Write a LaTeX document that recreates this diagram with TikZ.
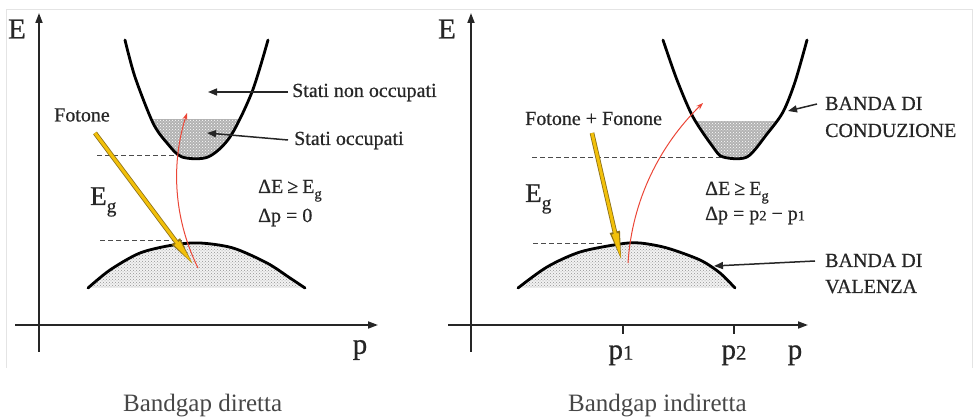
\documentclass[tikz,border=0pt]{standalone}
\usepackage{fontspec}
\setmainfont{Liberation Serif}[BoldFont={Liberation Serif},BoldFeatures={FakeBold=0.6}]
\usepackage{graphicx}
\usetikzlibrary{arrows.meta,patterns}
\definecolor{txt}{HTML}{262626}
\definecolor{gold}{RGB}{242,192,10}
\definecolor{goldedge}{RGB}{140,112,25}
\definecolor{redarr}{RGB}{235,70,55}
\definecolor{framecol}{HTML}{E4E4E4}
\newcommand\subg[1]{\raisebox{-0.6ex}{\scalebox{0.72}{#1}}}
\newcommand\subn[1]{\raisebox{-0.05ex}{\scalebox{0.72}{#1}}}
\begin{document}
\begin{tikzpicture}[x=1pt,y=-1pt,
  lbl/.style={inner sep=0pt, text=txt, font=\fontsize{20}{24}\selectfont\bfseries},
  biglbl/.style={inner sep=0pt, text=txt, font=\fontsize{29}{32}\selectfont\bfseries},
  eglbl/.style={inner sep=0pt, text=txt, font=\fontsize{27}{30}\selectfont\bfseries},
  caplbl/.style={inner sep=0pt, text=black!72, font=\fontsize{25}{30}\selectfont},
  axis/.style={line width=1.8pt, draw=black!85, -{Triangle[length=10pt,width=7pt]}},
  tick/.style={line width=1.8pt, draw=black!85},
  band/.style={line width=2.8pt, draw=black, line join=round, line cap=round},
  guide/.style={dash pattern=on 5pt off 3pt, line width=1pt, draw=black!70},
  ptr/.style={line width=1.5pt, draw=black!85, -{Triangle[length=9pt,width=7pt]}},
  exc/.style={line width=1pt, draw=redarr, -{Stealth[length=7pt,width=5pt]}},
  photout/.style={line width=4.6pt, draw=goldedge, -{Triangle[length=32pt,width=9pt]}},
  photin/.style={line width=3pt, draw=gold, shorten >=2pt, -{Triangle[length=28pt,width=6pt]}},
  cfill/.style={fill=gray!60, postaction={pattern=crosshatch dots, pattern color=white}},
  vfill/.style={fill=gray!10, postaction={pattern=crosshatch dots, pattern color=gray!85}}
]
\useasboundingbox (0,0) rectangle (975,419);
\draw[framecol, line width=1pt] (6.5,368) -- (6.5,10) -- (972,10) -- (972,368);

% ================= LEFT PANEL =================
\begin{scope}
  \clip (100,120) rectangle (300,170);
  \path[cfill] plot[smooth] coordinates {(125,40) (135,77) (153,123) (167,143) (182,157) (208,157) (230,137) (252,92) (268,40)} -- cycle;
\end{scope}
\path[vfill] plot[smooth] coordinates {(88,288) (110,270) (140,253) (173,245) (200,243) (233,248) (267,263) (290,278) (305,288)} -- cycle;

\coordinate (Lybot) at (39,352);
\coordinate (Lytop) at (39,13);
\coordinate (Lxl) at (15,325);
\coordinate (Lxr) at (378,325);
\draw[axis] (Lybot) -- (Lytop);
\draw[axis] (Lxl) -- (Lxr);
\node[biglbl] (LE) at (17,29) {E};
\node[biglbl] (Lp) at (360,350) {p};

\coordinate (Lg1a) at (97,156);  \coordinate (Lg1b) at (183,156);
\coordinate (Lg2a) at (100,241); \coordinate (Lg2b) at (182,241);
\draw[guide] (Lg1a) -- (Lg1b);
\draw[guide] (Lg2a) -- (Lg2b);

\draw[band] plot[smooth] coordinates {(125,40) (135,77) (153,123) (167,143) (182,157) (208,157) (230,137) (252,92) (268,40)};
\draw[band] plot[smooth] coordinates {(88,288) (110,270) (140,253) (173,245) (200,243) (233,248) (267,263) (290,278) (305,288)};

\coordinate (Lphs) at (95,133);
\coordinate (Lphe) at (195,267);
\draw[photout] (Lphs) -- (Lphe);
\draw[photin] (Lphs) -- (Lphe);
\coordinate (Lexs) at (198,268);
\coordinate (Lexe) at (187,113);
\draw[exc] (Lexs) .. controls (172,215) and (172,160) .. (Lexe);

\node[lbl] (Lfot) at (82,115) {Fotone};
\node[eglbl, anchor=base west] (LEg) at (90,205) {E\subg{g}};
\node[lbl, anchor=base west] (LdE) at (258,193) {ΔE\hspace{4pt}≥\hspace{4pt}E\subg{g}};
\node[lbl, anchor=base west] (Ldp) at (258,222) {Δp = 0};
\node[lbl, anchor=base west] (Lnon) at (292,97) {Stati non occupati};
\node[lbl, anchor=base west] (Locc) at (294,145) {Stati occupati};
\coordinate (Lnonpt) at (208,92);
\coordinate (Loccpt) at (207,133);
\draw[ptr] ([xshift=-4pt,yshift=5pt]Lnon.base west) -- (Lnonpt);
\draw[ptr] ([xshift=-6pt,yshift=5pt]Locc.base west) -- (Loccpt);
\node[caplbl, anchor=base west] (Lcap) at (123,412) {Bandgap diretta};

% ================= RIGHT PANEL =================
\begin{scope}
  \clip (600,122) rectangle (850,170);
  \path[cfill] plot[smooth] coordinates {(663,40) (677,80) (693,117) (713,147) (723,157) (747,157) (767,134) (783,112) (795,82) (807,40)} -- cycle;
\end{scope}
\path[vfill] plot[smooth] coordinates {(518,288) (547,267) (580,252) (620,244) (640,243) (667,248) (700,260) (720,273) (735,288)} -- cycle;

\coordinate (Rybot) at (471,352);
\coordinate (Rytop) at (471,13);
\coordinate (Rxl) at (448,325);
\coordinate (Rxr) at (808,325);
\draw[axis] (Rybot) -- (Rytop);
\draw[axis] (Rxl) -- (Rxr);
\coordinate (Rt1a) at (623,325); \coordinate (Rt1b) at (623,334);
\coordinate (Rt2a) at (734,325); \coordinate (Rt2b) at (734,334);
\draw[tick] (Rt1a) -- (Rt1b);
\draw[tick] (Rt2a) -- (Rt2b);
\node[biglbl] (RE) at (447,29) {E};
\node[biglbl, anchor=base] (Rp1) at (621,359) {p\subn{1}};
\node[biglbl, anchor=base] (Rp2) at (734,359) {p\subn{2}};
\node[biglbl, anchor=base] (Rp) at (795,359) {p};

\coordinate (Rg1a) at (532,158); \coordinate (Rg1b) at (722,158);
\coordinate (Rg2a) at (533,244); \coordinate (Rg2b) at (602,244);
\draw[guide] (Rg1a) -- (Rg1b);
\draw[guide] (Rg2a) -- (Rg2b);

\draw[band] plot[smooth] coordinates {(663,40) (677,80) (693,117) (713,147) (723,157) (747,157) (767,134) (783,112) (795,82) (807,40)};
\draw[band] plot[smooth] coordinates {(518,288) (547,267) (580,252) (620,244) (640,243) (667,248) (700,260) (720,273) (735,288)};

\coordinate (Rphs) at (592,133);
\coordinate (Rphe) at (622,263);
\draw[photout] (Rphs) -- (Rphe);
\draw[photin] (Rphs) -- (Rphe);
\coordinate (Rexs) at (628,263);
\coordinate (Rexe) at (703,103);
\draw[exc] (Rexs) .. controls (632,200) and (660,145) .. (Rexe);

\node[lbl, anchor=base west] (Rfot) at (525,125) {Fotone + Fonone};
\node[eglbl, anchor=base west] (REg) at (525,202) {E\subg{g}};
\node[lbl, anchor=base west] (RdE) at (705,195) {ΔE\hspace{4pt}≥\hspace{4pt}E\subg{g}};
\node[lbl, anchor=base west] (Rdp) at (705,220) {Δp = p\subn{2} − p\subn{1}};
\node[lbl, anchor=base west] (Rcb1) at (825,110) {BANDA DI};
\node[lbl, anchor=base west] (Rcb2) at (825,137) {CONDUZIONE};
\node[lbl, anchor=base west] (Rvb1) at (825,267) {BANDA DI};
\node[lbl, anchor=base west] (Rvb2) at (825,293) {VALENZA};
\coordinate (Rcbpt) at (788,111);
\coordinate (Rvbpt) at (714,266);
\draw[ptr] ([xshift=-8pt,yshift=6pt]Rcb1.base west) -- (Rcbpt);
\draw[ptr] ([xshift=-10pt,yshift=6pt]Rvb1.base west) -- (Rvbpt);
\node[caplbl, anchor=base west] (Rcap) at (568,412) {Bandgap indiretta};
\end{tikzpicture}
\end{document}
